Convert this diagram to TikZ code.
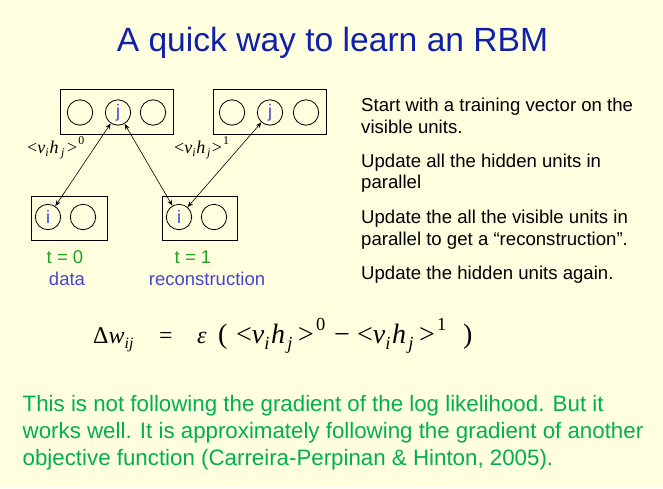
\documentclass[tikz,border=0pt]{standalone}
\usepackage[no-math]{fontspec}
\setmainfont{Liberation Sans}
\newfontfamily\tmsfont{Liberation Serif}
\usetikzlibrary{arrows.meta}
\definecolor{bgc}{RGB}{255,255,224}
\definecolor{titlec}{RGB}{16,32,168}
\definecolor{unitc}{RGB}{60,70,220}
\definecolor{tgreen}{RGB}{30,165,30}
\definecolor{lblue}{RGB}{70,70,210}
\definecolor{bgreen}{RGB}{0,176,80}
\newcommand\lsub[1]{\raisebox{-0.22em}{\scalebox{0.66}{\itshape #1}}}
\newcommand\hsup[1]{\raisebox{0.46em}{\scalebox{0.66}{#1}}}
% kerns: before h, before j, before >, before superscript
\newcommand\vhp[5]{<\textit{v}\lsub{i}\kern#1\textit{h}\kern#2\lsub{j}\kern#3>\kern#4\hsup{#5}}
\tikzset{
  layerbox/.style={draw, line width=0.8pt, inner sep=0pt, fill=none},
  unit/.style={draw, circle, line width=0.8pt, minimum size=25.4pt, inner sep=0pt, text=unitc, font=\fontsize{18}{20}\selectfont},
  conn/.style={{Stealth[length=6pt,width=4.5pt]}-{Stealth[length=6pt,width=4.5pt]}, line width=0.6pt},
  bodytxt/.style={anchor=base west, inner sep=0pt, font=\fontsize{18.6}{22}\selectfont},
  bottxt/.style={anchor=base west, inner sep=0pt, text=bgreen, font=\fontsize{22.3}{27}\selectfont},
  lbl/.style={anchor=base west, inner sep=0pt, font=\tmsfont\fontsize{18}{20}\selectfont},
  eqtxt/.style={anchor=base west, inner sep=0pt, font=\tmsfont\fontsize{24}{28}\selectfont},
  eqbig/.style={anchor=base west, inner sep=0pt, font=\tmsfont\fontsize{28}{32}\selectfont},
  captxt/.style={anchor=base, inner sep=0pt, font=\fontsize{18.5}{21}\selectfont}
}
\begin{document}
\begin{tikzpicture}[x=1pt,y=-1pt]
\fill[bgc] (0,0) rectangle (663,488);
\useasboundingbox (0,0) rectangle (663,488);
% title
\node[anchor=base, inner sep=0pt, text=titlec, font=\fontsize{33.6}{40}\selectfont] (title) at (332.5,51.5) {A quick way to learn an RBM};
% boxes
\node[layerbox, minimum width=113pt, minimum height=45pt] (hA) at (116.5,111.5) {};
\node[layerbox, minimum width=113pt, minimum height=45pt] (hB) at (269.5,111.5) {};
\node[layerbox, minimum width=76pt, minimum height=44pt] (vA) at (69,218) {};
\node[layerbox, minimum width=75pt, minimum height=44pt] (vB) at (199.5,218) {};
% units
\node[unit] (a1) at (80,112.5) {};
\node[unit] (jA) at (118,112.5) {j};
\node[unit] (a3) at (153,112.5) {};
\node[unit] (b1) at (232,112.5) {};
\node[unit] (jB) at (270,112.5) {j};
\node[unit] (b3) at (306,112.5) {};
\node[unit] (iA) at (48,217) {i};
\node[unit] (c2) at (83,217) {};
\node[unit] (iB) at (179,217) {i};
\node[unit] (d2) at (214,217) {};
% connectors
\draw[conn] (iA) -- (jA);
\draw[conn] (jA) -- (iB);
\draw[conn] (iB) -- (jB);
% labels
\node[lbl] (l0) at (27,153) {\vhp{0.06em}{0.14em}{0.14em}{0.06em}{0}};
\node[lbl] (l1) at (174,153) {\vhp{0.04em}{0.1em}{0.08em}{0.06em}{1}};
\node[captxt, text=tgreen] (t0) at (65,263) {t = 0};
\node[captxt, text=lblue] (d0) at (67,285) {data};
\node[captxt, text=tgreen] (t1) at (193,263) {t = 1};
\node[captxt, text=lblue] (r1) at (207,285) {reconstruction};
% right text
\node[bodytxt] (r1a) at (361,111.5) {Start with a training vector on the};
\node[bodytxt] (r1b) at (361,133) {visible units.};
\node[bodytxt] (r2a) at (361,167) {Update all the hidden units in};
\node[bodytxt] (r2b) at (361,188.5) {parallel};
\node[bodytxt] (r3a) at (361,223) {Update the all the visible units in};
\node[bodytxt] (r3b) at (361,245) {parallel to get a \textquotedblleft reconstruction\textquotedblright.};
\node[bodytxt] (r4a) at (361,279) {Update the hidden units again.};
% formula
\node[eqtxt] (e1) at (93,343.5) {Δ\textit{w}\lsub{ij}};
\node[eqtxt] (e2) at (159,343.5) {=};
\node[eqtxt] (e3) at (197,343.5) {\textit{ε}};
\node[eqbig] (e4) at (218,343.5) {(};
\node[eqbig] (e5) at (236,343.5) {\vhp{0.06em}{0.08em}{0.2em}{0.08em}{0}};
\node[eqbig] (e6) at (334,343.5) {−};
\node[eqbig] (e7) at (357,343.5) {\vhp{0.06em}{0.08em}{0.2em}{0.08em}{1}};
\node[eqbig] (e8) at (463,343.5) {)};
% bottom text
\node[bottxt] (b1l) at (22.5,411.7) {This is not following the gradient of the log likelihood. But it};
\node[bottxt] (b2l) at (22.5,438.5) {works well. It is approximately following the gradient of another};
\node[bottxt] (b3l) at (22.5,465.5) {objective function (Carreira-Perpinan \& Hinton, 2005).};
\end{tikzpicture}
\end{document}
